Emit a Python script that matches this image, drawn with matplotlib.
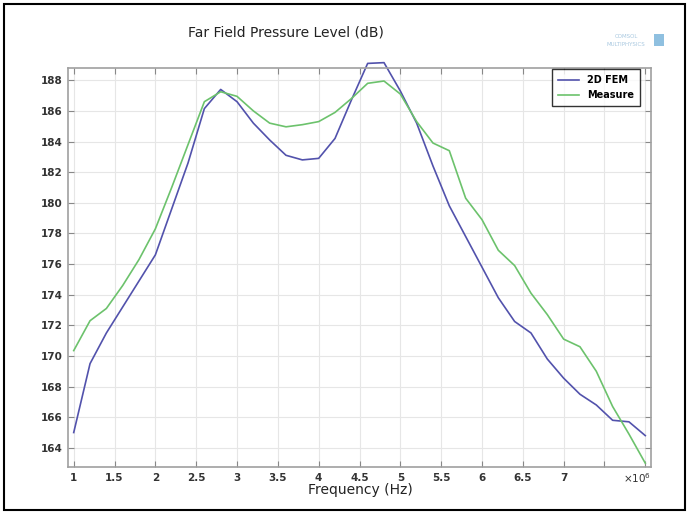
import numpy as np
import matplotlib
matplotlib.use("Agg")
import matplotlib.pyplot as plt
from matplotlib.patches import Rectangle

# frequency in MHz (axis shows x1e6)
freq = [1.0, 1.2, 1.4, 1.6, 1.8, 2.0, 2.2, 2.4, 2.6, 2.8, 3.0, 3.2,
        3.4, 3.6, 3.8, 4.0, 4.2, 4.4, 4.6, 4.8, 5.0, 5.2, 5.4, 5.6,
        5.8, 6.0, 6.2, 6.4, 6.6, 6.8, 7.0, 7.2, 7.4, 7.6, 7.8, 8.0]

fem = [165.0, 169.5, 171.5, 173.2, 174.9, 176.6, 179.6, 182.6, 186.15, 187.4, 186.6, 185.2,
       184.1, 183.1, 182.8, 182.9, 184.2, 186.7, 189.1, 189.15, 187.3, 185.2, 182.4, 179.8,
       177.8, 175.8, 173.8, 172.25, 171.5, 169.8, 168.55, 167.5, 166.8, 165.8, 165.7, 164.8]

measure = [170.35, 172.3, 173.1, 174.6, 176.3, 178.3, 181.0, 183.8, 186.6, 187.25, 186.95, 186.0,
           185.2, 184.96, 185.1, 185.3, 185.9, 186.8, 187.8, 187.95, 187.1, 185.3, 183.9, 183.4,
           180.3, 178.9, 176.9, 175.9, 174.1, 172.7, 171.1, 170.6, 169.0, 166.7, 164.9, 163.0]

xticks = [1, 1.5, 2, 2.5, 3, 3.5, 4, 4.5, 5, 5.5, 6, 6.5, 7, 7.5, 8]
xticklabels = ["1", "1.5", "2", "2.5", "3", "3.5", "4", "4.5", "5", "5.5", "6", "6.5", "7", "", ""]
yticks = list(range(164, 189, 2))

fig = plt.figure(figsize=(6.89, 5.13), dpi=100)
ax = fig.add_axes([68/689, 1 - 467/513, (651-68)/689, (467-68)/513])

ax.plot(freq, fem, color="#5252ac", lw=1.2, label="2D FEM", clip_on=False)
ax.plot(freq, measure, color="#6cc26c", lw=1.2, label="Measure", clip_on=False)

ax.set_xlim(0.93, 8.07)
ax.set_ylim(162.75, 188.8)
ax.set_xticks(xticks)
ax.set_xticklabels(xticklabels)
ax.set_yticks(yticks)
ax.grid(True, color="#e6e6e6", lw=0.8)
ax.set_axisbelow(True)
ax.tick_params(direction="in", length=4, width=0.8, color="#888888",
               top=True, right=True, labelsize=7.5, labelcolor="#333333", pad=4)
for lab in ax.get_xticklabels() + ax.get_yticklabels():
    lab.set_fontweight("bold")
for s in ax.spines.values():
    s.set_color("#a0a0a0")
    s.set_linewidth(1.2)

ax.text(1.0, -0.01, r"$\times 10^6$", transform=ax.transAxes, ha="right", va="top",
        fontsize=7.5, color="#333333", fontweight="bold")

leg = ax.legend(loc="upper right", fontsize=7, frameon=True, fancybox=False,
                edgecolor="black", borderpad=0.6, handlelength=2.2,
                bbox_to_anchor=(0.983, 1.0), borderaxespad=0.15)
leg.get_frame().set_linewidth(1.0)
for t in leg.get_texts():
    t.set_fontweight("bold")

fig.text(286/689, 1 - 33/513, "Far Field Pressure Level (dB)", ha="center", va="center",
         fontsize=10, color="#222222")
fig.text(360/689, 1 - 490/513, "Frequency (Hz)", ha="center", va="center",
         fontsize=10, color="#222222")

# faint logo
fig.text(626/689, 1 - 36/513, "COMSOL", ha="center", va="center", fontsize=4, color="#a8c8e0")
fig.text(626/689, 1 - 44/513, "MULTIPHYSICS", ha="center", va="center", fontsize=4, color="#a8c8e0")
fig.patches.append(Rectangle((654/689, 1 - 46/513), 10/689, 12/513, transform=fig.transFigure,
                             facecolor="#8fc0e0", edgecolor="none"))

# outer frame
fig.patches.append(Rectangle((4/689, 3/513), 681/689, 506/513, transform=fig.transFigure,
                             fill=False, edgecolor="black", lw=1.5))

fig.savefig("out.png", dpi=100)
